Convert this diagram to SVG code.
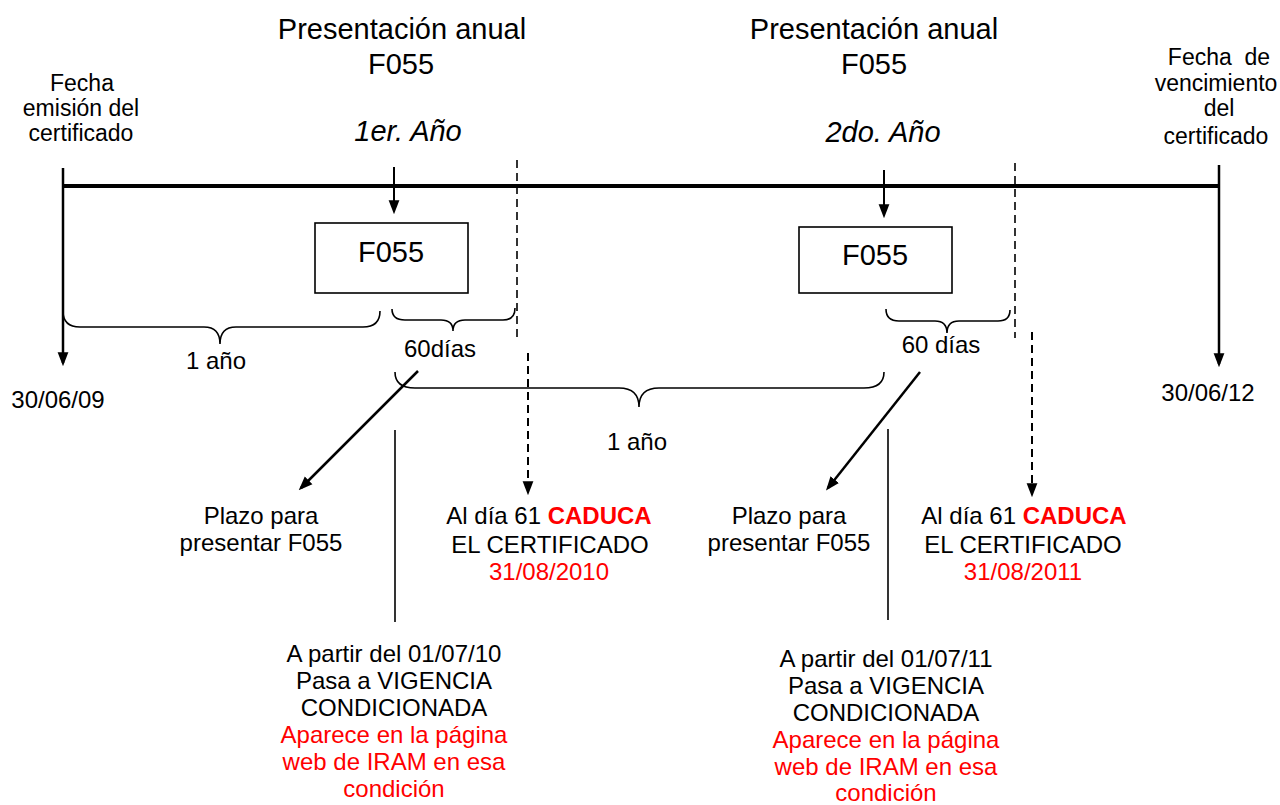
<svg xmlns="http://www.w3.org/2000/svg" width="1280" height="805" viewBox="0 0 1280 805">
<defs>
<style>
text{font-family:"Liberation Sans",Arial,sans-serif;fill:#000;text-anchor:middle}
.t29{font-size:29px}
.t30{font-size:29px;font-style:italic}
.t24{font-size:24px}
.t23{font-size:23px}
.red{fill:#FF0000}
.b{font-weight:bold}
.ln{stroke:#000;fill:none}
.brace{stroke:#000;fill:none;stroke-width:1.6}
.box{fill:#fff;stroke:#000;stroke-width:1.6}
.dash{stroke:#000;fill:none;stroke-width:1.6;stroke-dasharray:8 5}
.dasharr{stroke:#000;fill:none;stroke-width:2;stroke-dasharray:8 5}
</style>
<marker id="ah" markerUnits="userSpaceOnUse" markerWidth="14" markerHeight="12" viewBox="0 0 13 10" refX="10" refY="5" orient="auto">
<path d="M0,0 L13,5 L0,10 z" fill="#000"/>
</marker>
</defs>
<rect width="1280" height="805" fill="#fff"/>

<g id="titles">
<text class="t29" x="402" y="39">Presentación anual</text>
<text class="t29" x="401" y="74">F055</text>
<text class="t30" x="408" y="141">1er. Año</text>
<text class="t29" x="874" y="39">Presentación anual</text>
<text class="t29" x="874" y="74">F055</text>
<text class="t30" x="883" y="142">2do. Año</text>
</g>

<g id="start-label">
<text class="t23" x="82" y="91">Fecha</text>
<text class="t23" x="81" y="116">emisión del</text>
<text class="t23" x="81" y="141">certificado</text>
<text class="t24" x="58" y="408">30/06/09</text>
</g>

<g id="end-label">
<text class="t23" x="1219" y="65" xml:space="preserve">Fecha  de</text>
<text class="t23" x="1216" y="91">vencimiento</text>
<text class="t23" x="1219" y="116">del</text>
<text class="t23" x="1216" y="144">certificado</text>
<text class="t24" x="1208" y="401">30/06/12</text>
</g>

<g id="box1">
<rect class="box" x="315" y="223" width="153" height="70"/>
<text class="t29" x="391" y="262">F055</text>
</g>
<g id="box2">
<rect class="box" x="799" y="227" width="153" height="66"/>
<text class="t29" x="875" y="265">F055</text>
</g>

<g id="connectors">
<line class="ln" x1="63" y1="186" x2="1219" y2="186" stroke-width="4"/>
<line class="ln" x1="63" y1="168" x2="63" y2="363" stroke-width="2.5" marker-end="url(#ah)"/>
<line class="ln" x1="1219" y1="165" x2="1219" y2="364" stroke-width="2.5" marker-end="url(#ah)"/>
<line class="ln" x1="394" y1="167" x2="394" y2="211" stroke-width="2" marker-end="url(#ah)"/>
<line class="ln" x1="884" y1="170" x2="884" y2="215" stroke-width="2" marker-end="url(#ah)"/>
<line class="dash" x1="517" y1="160" x2="517" y2="337"/>
<line class="dash" x1="1015" y1="163" x2="1015" y2="338"/>
<line class="dasharr" x1="528" y1="353" x2="528" y2="492" marker-end="url(#ah)"/>
<line class="dasharr" x1="1032" y1="332" x2="1032" y2="494" marker-end="url(#ah)"/>
<line class="ln" x1="418" y1="371" x2="301" y2="488" stroke-width="2.5" marker-end="url(#ah)"/>
<line class="ln" x1="920" y1="372" x2="828" y2="488" stroke-width="2.5" marker-end="url(#ah)"/>
<line class="ln" x1="395" y1="430" x2="395" y2="622" stroke-width="1.6"/>
<line class="ln" x1="888" y1="429" x2="888" y2="620" stroke-width="1.6"/>
<path class="brace" d="M63,311 Q63,327 80,327 L204,327 Q220,327 220,344 Q220,327 236,327 L363,327 Q380,327 380,311"/>
<path class="brace" d="M392,309 Q392,320 405,320 L441,320 Q453,320 453,331 Q453,320 465,320 L503,320 Q515,320 515,308"/>
<path class="brace" d="M886,309 Q886,321 899,321 L935,321 Q947,321 947,333 Q947,321 959,321 L998,321 Q1010,321 1010,310"/>
<path class="brace" d="M395,372 Q395,388 415,388 L619,388 Q639,388 639,407 Q639,388 659,388 L864,388 Q884,388 884,372"/>
</g>

<g id="span-labels">
<text class="t24" x="216" y="369">1 año</text>
<text class="t24" x="440" y="357">60días</text>
<text class="t24" x="941" y="353">60 días</text>
<text class="t24" x="637" y="450">1 año</text>
</g>

<g id="plazo1">
<text class="t24" x="261" y="524">Plazo para</text>
<text class="t24" x="261" y="551">presentar F055</text>
</g>
<g id="plazo2">
<text class="t24" x="789" y="524">Plazo para</text>
<text class="t24" x="789" y="551">presentar F055</text>
</g>

<g id="caduca1">
<text class="t24" x="549" y="524">Al día 61 <tspan class="red b">CADUCA</tspan></text>
<text class="t24" x="550" y="553">EL CERTIFICADO</text>
<text class="t24 red" x="549" y="580">31/08/2010</text>
</g>
<g id="caduca2">
<text class="t24" x="1024" y="524">Al día 61 <tspan class="red b">CADUCA</tspan></text>
<text class="t24" x="1023" y="553">EL CERTIFICADO</text>
<text class="t24 red" x="1023" y="580">31/08/2011</text>
</g>

<g id="vigencia1">
<text class="t24" x="394" y="662">A partir del 01/07/10</text>
<text class="t24" x="394" y="689">Pasa a VIGENCIA</text>
<text class="t24" x="394" y="716">CONDICIONADA</text>
<text class="t24 red" x="394" y="743">Aparece en la página</text>
<text class="t24 red" x="394" y="770">web de IRAM en esa</text>
<text class="t24 red" x="394" y="797">condición</text>
</g>
<g id="vigencia2">
<text class="t24" x="886" y="667">A partir del 01/07/11</text>
<text class="t24" x="886" y="694">Pasa a VIGENCIA</text>
<text class="t24" x="886" y="721">CONDICIONADA</text>
<text class="t24 red" x="886" y="748">Aparece en la página</text>
<text class="t24 red" x="886" y="775">web de IRAM en esa</text>
<text class="t24 red" x="886" y="801">condición</text>
</g>
</svg>
